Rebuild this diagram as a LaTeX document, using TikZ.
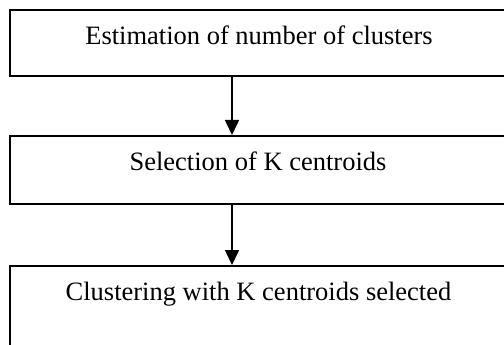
\documentclass[tikz,border=0pt]{standalone}
\usepackage{fontspec}
\setmainfont{Liberation Serif}
\usetikzlibrary{arrows.meta}
\begin{document}
\begin{tikzpicture}[x=1pt,y=1pt,
  stepbox/.style={draw=black, line width=1.8pt, rectangle, minimum width=500pt, inner sep=0pt, anchor=north west},
  lbl/.style={anchor=base, inner sep=0pt, font=\fontsize{26.5}{30}\selectfont},
  arr/.style={line width=1.6pt, -{Triangle[width=14pt,length=15pt]}}]
\useasboundingbox (0,0) rectangle (504,-345);
\clip (0,0) rectangle (504,-345);
\fill[white] (0,0) rectangle (504,-345);
\node[stepbox, minimum height=66pt] (b1) at (9,-9) {};
\node[stepbox, minimum height=68pt] (b2) at (9,-135) {};
\node[stepbox, minimum height=140pt] (b3) at (9,-265) {};
\node[lbl] (t1) at (259,-45) {Estimation of number of clusters};
\node[lbl] (t2) at (258,-170) {Selection of K centroids};
\node[lbl] (t3) at (258.5,-300) {Clustering with K centroids selected};
\draw[arr] ([xshift=223pt]b1.south west) -- ([xshift=223pt]b2.north west);
\draw[arr] ([xshift=223pt]b2.south west) -- ([xshift=223pt]b3.north west);
\end{tikzpicture}
\end{document}
